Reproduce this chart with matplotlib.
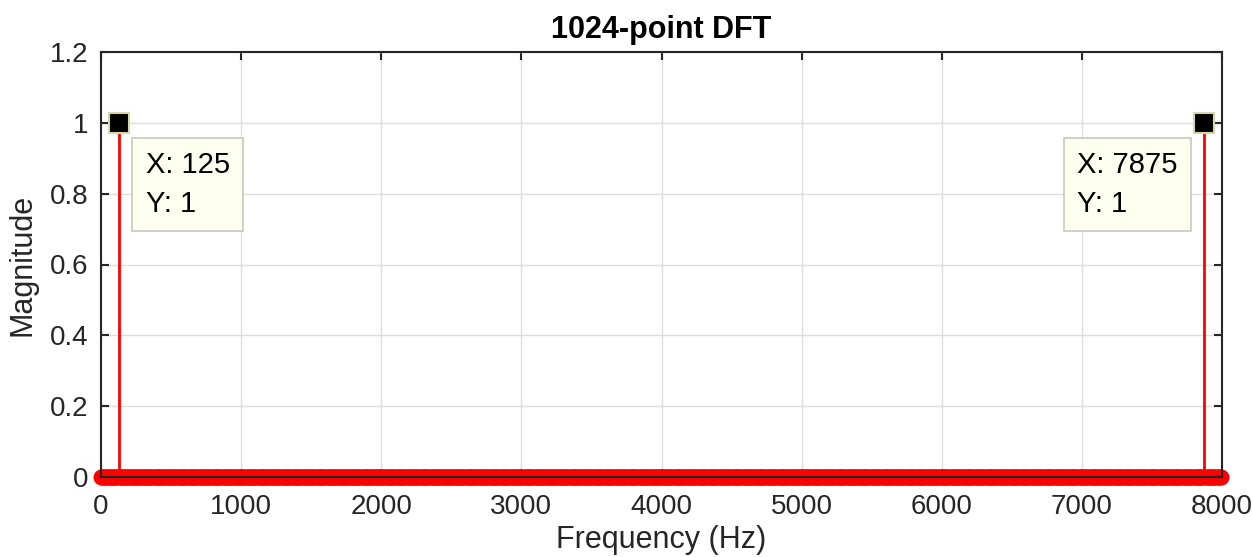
import numpy as np
import matplotlib.pyplot as plt

# === DATA ===
N_POINTS = 1024
FS = 8000
freq_hz = np.arange(N_POINTS) * FS / N_POINTS
magnitude = np.zeros(N_POINTS)
peak_bins = [16, 1008]          # 125 Hz and 7875 Hz
peak_values = [1, 1]
magnitude[peak_bins] = peak_values
tip_labels = ["X: 125\nY: 1", "X: 7875\nY: 1"]

x_ticks = [0, 1000, 2000, 3000, 4000, 5000, 6000, 7000, 8000]
y_ticks = [0, 0.2, 0.4, 0.6, 0.8, 1, 1.2]
y_tick_labels = ["0", "0.2", "0.4", "0.6", "0.8", "1", "1.2"]

plt.rcParams['font.family'] = ['Liberation Sans', 'DejaVu Sans']

fig = plt.figure(figsize=(12.53, 5.57), dpi=100)
ax = fig.add_axes([101 / 1253, 1 - 477 / 557, 1121 / 1253, 425 / 557])

# === STEM PLOT ===
markerline, stemlines, baseline = ax.stem(freq_hz, magnitude, linefmt='r-', markerfmt='ro', basefmt=' ')
stemlines.set_linewidth(2)
markerline.set_markersize(10.5)
markerline.set_clip_on(False)
stemlines.set_clip_on(False)

# data tips
for b, lab, side in zip(peak_bins, tip_labels, ["right", "left"]):
    ax.plot(freq_hz[b], magnitude[b], 's', color='black', markersize=15,
            markeredgecolor='#d6d6a8', markeredgewidth=1.5, zorder=5, clip_on=False)
    if side == "right":
        offset, ha = (27, -28), 'left'
    else:
        offset, ha = (-27, -28), 'right'
    ax.annotate(lab, xy=(freq_hz[b], magnitude[b]), xytext=offset, textcoords='offset pixels',
                ha=ha, va='top', multialignment='left', fontsize=21, linespacing=1.5, zorder=6,
                bbox=dict(boxstyle='square,pad=0.45', facecolor='#fffff0', edgecolor='#c8c8c0', linewidth=1.2))

# === AXES STYLE ===
ax.set_xlim(0, 8000)
ax.set_ylim(0, 1.2)
ax.set_xticks(x_ticks)
ax.set_yticks(y_ticks)
ax.set_yticklabels(y_tick_labels)
ax.tick_params(direction='in', length=6, width=1.5, labelsize=20, colors='#262626',
               top=True, right=True)
ax.tick_params(axis='x', pad=12)
ax.tick_params(axis='y', pad=9)
for s in ax.spines.values():
    s.set_linewidth(1.5)
    s.set_color('#262626')
    s.set_zorder(4)
ax.grid(True, color='#dedede', linewidth=1)
ax.set_axisbelow(True)

ax.set_title("1024-point DFT", fontsize=22, fontweight='bold', pad=10)
ax.set_xlabel("Frequency (Hz)", fontsize=22, color='#262626', labelpad=4)
ax.set_ylabel("Magnitude", fontsize=22, color='#262626', labelpad=9)

fig.savefig("out.png", dpi=100)
